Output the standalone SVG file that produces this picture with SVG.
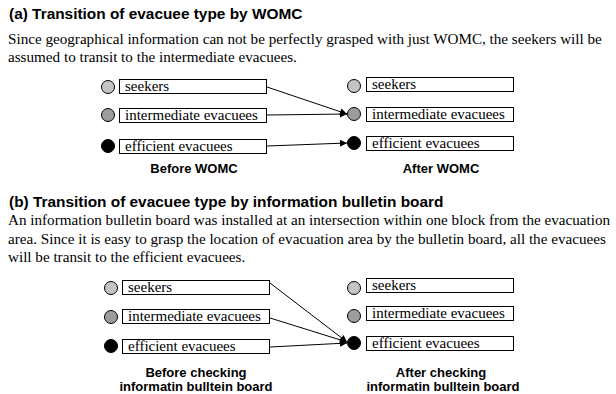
<svg xmlns="http://www.w3.org/2000/svg" width="616" height="394" viewBox="0 0 616 394">
<defs>
<style>
.h{font-family:"Liberation Sans",Arial,sans-serif;font-weight:bold;font-size:15.4px;fill:#000}
.p{font-family:"Liberation Serif","Times New Roman",serif;font-size:15.15px;fill:#000}
.t{font-family:"Liberation Serif","Times New Roman",serif;font-size:15px;fill:#000}
.l{font-family:"Liberation Sans",Arial,sans-serif;font-weight:bold;font-size:13px;fill:#000;text-anchor:middle}
.b{fill:#fff;stroke:#000;stroke-width:1}
.c{stroke:#000;stroke-width:1}
.s{fill:#c4c4c4}
.m{fill:#9c9c9c}
.e{fill:#000}
.a{stroke:#000;stroke-width:1;fill:none;marker-end:url(#ah)}
</style>
<marker id="ah" viewBox="0 0 10 10" refX="10" refY="5" markerWidth="10" markerHeight="7" markerUnits="userSpaceOnUse" orient="auto">
<path d="M0,0 L10,5 L0,10 z" fill="#000"/>
</marker>
</defs>
<rect width="616" height="394" fill="#fff"/>
<text class="h" x="9" y="19">(a) Transition of evacuee type by WOMC</text>
<text class="p" x="8" y="44">Since geographical information can not be perfectly grasped with just WOMC, the seekers will be</text>
<text class="p" x="8" y="62">assumed to transit to the intermediate evacuees.</text>

<g id="a-before-seekers"><circle class="c s" cx="108" cy="87" r="6.5"/><rect class="b" x="119.5" y="79.5" width="147" height="14"/><text class="t" x="125" y="91">seekers</text></g>
<g id="a-before-intermediate"><circle class="c m" cx="108" cy="115" r="6.5"/><rect class="b" x="119.5" y="108.5" width="147" height="14"/><text class="t" x="125" y="120">intermediate evacuees</text></g>
<g id="a-before-efficient"><circle class="c e" cx="108" cy="146" r="6.5"/><rect class="b" x="119.5" y="139.5" width="147" height="14"/><text class="t" x="125" y="151">efficient evacuees</text></g>
<g id="a-after-seekers"><circle class="c s" cx="354" cy="86" r="6.5"/><rect class="b" x="366.5" y="77.5" width="147" height="14"/><text class="t" x="372" y="89">seekers</text></g>
<g id="a-after-intermediate"><circle class="c m" cx="354" cy="114" r="6.5"/><rect class="b" x="366.5" y="107.5" width="147" height="14"/><text class="t" x="372" y="119">intermediate evacuees</text></g>
<g id="a-after-efficient"><circle class="c e" cx="354" cy="143" r="6.5"/><rect class="b" x="366.5" y="136.5" width="147" height="14"/><text class="t" x="372" y="148">efficient evacuees</text></g>
<text class="l" x="194" y="173">Before WOMC</text>
<text class="l" x="441" y="173">After WOMC</text>

<text class="h" x="9" y="207">(b) Transition of evacuee type by information bulletin board</text>
<text class="p" x="8" y="225">An information bulletin board was installed at an intersection within one block from the evacuation</text>
<text class="p" x="8" y="244">area. Since it is easy to grasp the location of evacuation area by the bulletin board, all the evacuees</text>
<text class="p" x="8" y="262">will be transit to the efficient evacuees.</text>

<g id="b-before-seekers"><circle class="c s" cx="111" cy="288" r="6.5"/><rect class="b" x="122.5" y="280.5" width="147" height="14"/><text class="t" x="128" y="292">seekers</text></g>
<g id="b-before-intermediate"><circle class="c m" cx="111" cy="317" r="6.5"/><rect class="b" x="122.5" y="309.5" width="147" height="14"/><text class="t" x="128" y="321">intermediate evacuees</text></g>
<g id="b-before-efficient"><circle class="c e" cx="111" cy="346" r="6.5"/><rect class="b" x="122.5" y="339.5" width="147" height="14"/><text class="t" x="128" y="351">efficient evacuees</text></g>
<g id="b-after-seekers"><circle class="c s" cx="354" cy="288" r="6.5"/><rect class="b" x="366.5" y="278.5" width="147" height="14"/><text class="t" x="372" y="290">seekers</text></g>
<g id="b-after-intermediate"><circle class="c m" cx="354" cy="316" r="6.5"/><rect class="b" x="366.5" y="306.5" width="147" height="14"/><text class="t" x="372" y="318">intermediate evacuees</text></g>
<g id="b-after-efficient"><circle class="c e" cx="354" cy="343" r="6.5"/><rect class="b" x="366.5" y="336.5" width="147" height="14"/><text class="t" x="372" y="348">efficient evacuees</text></g>
<text class="l" x="196" y="377">Before checking</text>
<text class="l" x="196" y="391">informatin bulltein board</text>
<text class="l" x="441" y="377">After checking</text>
<text class="l" x="443" y="391">informatin bulltein board</text>

<g id="connectors">
<line class="a" x1="267" y1="87" x2="347" y2="114"/>
<line class="a" x1="267" y1="115" x2="347" y2="114"/>
<line class="a" x1="267" y1="146" x2="347" y2="143"/>
<line class="a" x1="270" y1="283" x2="347" y2="342"/>
<line class="a" x1="270" y1="318" x2="347" y2="342"/>
<line class="a" x1="270" y1="347" x2="347" y2="343"/>
</g>
</svg>
